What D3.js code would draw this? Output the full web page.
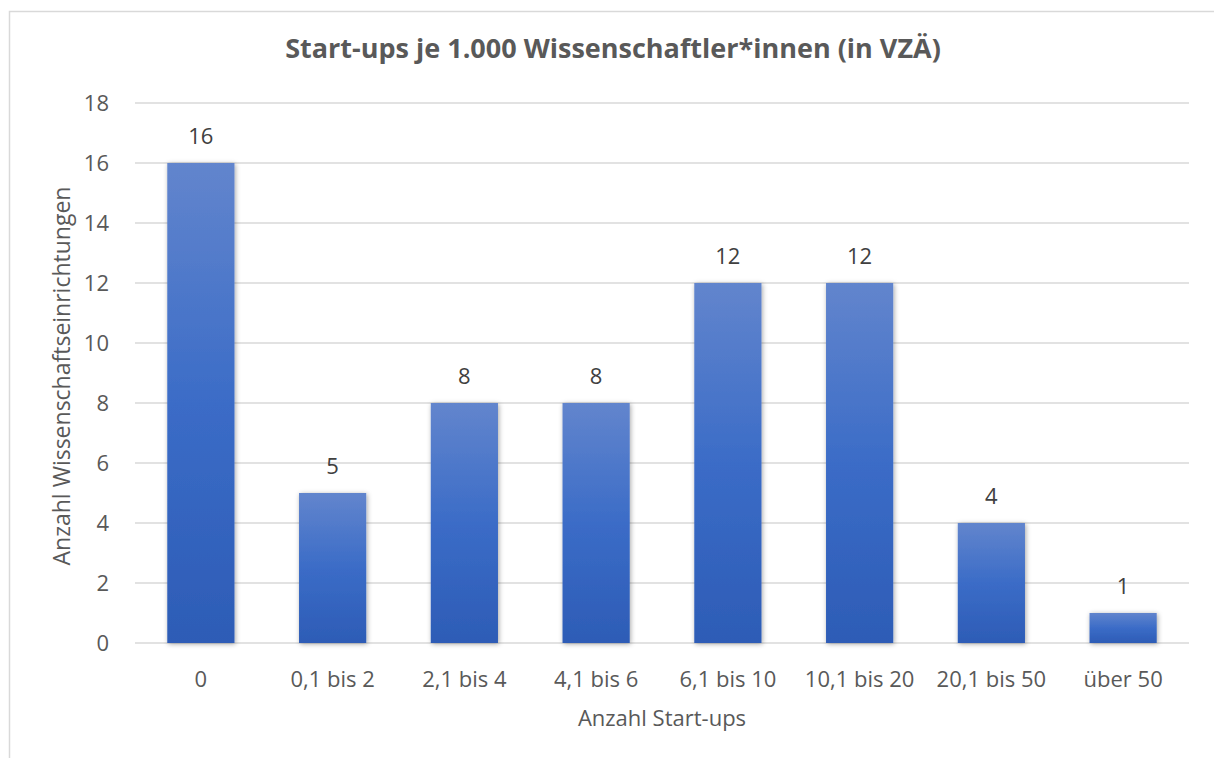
<!DOCTYPE html>
<html lang="de">
<head>
    <meta charset="utf-8">
    <style>
        html, body {
            margin: 0;
            padding: 0;
            background: #ffffff;
        }
        body {
            font-family: "Open Sans", Lato, sans-serif;
            width: 1214px;
            height: 758px;
            overflow: hidden;
        }
        .tick text {
            fill: #595959;
            font-size: 22px;
            font-family: "Open Sans", Lato, sans-serif;
        }
        .grid line {
            stroke: #d9d9d9;
            stroke-width: 1.5;
        }
    </style>
</head>
<body>

<script src="https://cdnjs.cloudflare.com/ajax/libs/d3/7.8.5/d3.min.js"></script>
<script>
// values
var categories = ['0', '0,1 bis 2', '2,1 bis 4', '4,1 bis 6', '6,1 bis 10', '10,1 bis 20', '20,1 bis 50', 'über 50'];
var counts = [16, 5, 8, 8, 12, 12, 4, 1];
var yTicks = [0, 2, 4, 6, 8, 10, 12, 14, 16, 18];

var titleText = 'Start-ups je 1.000 Wissenschaftler*innen (in VZÄ)';
var xTitle = 'Anzahl Start-ups';
var yTitle = 'Anzahl Wissenschaftseinrichtungen';

(function() {
    var width = 1214, height = 758;
    var plot = {left: 135, right: 1189, top: 103, bottom: 643};

    var svg = d3.select('body').append('svg')
        .attr('width', width)
        .attr('height', height);

    var defs = svg.append('defs');
    var grad = defs.append('linearGradient')
        .attr('id', 'barGrad')
        .attr('x1', 0).attr('y1', 0).attr('x2', 0).attr('y2', 1);
    grad.append('stop').attr('offset', '0%').attr('stop-color', '#6285cd');
    grad.append('stop').attr('offset', '50%').attr('stop-color', '#3b6cc7');
    grad.append('stop').attr('offset', '100%').attr('stop-color', '#2d5cb6');

    var shadow = defs.append('filter')
        .attr('id', 'shadow')
        .attr('x', '-30%').attr('y', '-30%').attr('width', '160%').attr('height', '160%');
    shadow.append('feDropShadow')
        .attr('dx', 1).attr('dy', 1)
        .attr('stdDeviation', 2.5)
        .attr('flood-color', '#000')
        .attr('flood-opacity', 0.35);

    // chart border
    svg.append('rect')
        .attr('x', 9.5).attr('y', 11.5)
        .attr('width', 1230).attr('height', 780)
        .attr('fill', 'none')
        .attr('stroke', '#d9d9d9')
        .attr('stroke-width', 1.5);

    var x = d3.scaleBand()
        .domain(categories)
        .range([plot.left, plot.right])
        .paddingInner(0.49)
        .paddingOuter(0.245);

    var y = d3.scaleLinear()
        .domain([0, 18])
        .range([plot.bottom, plot.top]);

    // gridlines
    svg.append('g')
        .attr('class', 'grid')
        .selectAll('line')
        .data(yTicks)
        .enter().append('line')
        .attr('x1', plot.left)
        .attr('x2', plot.right)
        .attr('y1', function (d) { return y(d); })
        .attr('y2', function (d) { return y(d); });

    // y axis labels
    var yAxis = svg.append('g')
        .attr('transform', 'translate(' + (plot.left - 26) + ',0)')
        .call(d3.axisLeft(y).tickValues(yTicks).tickSize(0).tickPadding(0));
    yAxis.select('.domain').remove();

    // x axis labels
    var xAxis = svg.append('g')
        .attr('transform', 'translate(0,' + plot.bottom + ')')
        .call(d3.axisBottom(x).tickSize(0).tickPadding(28));
    xAxis.select('.domain').remove();

    // bars
    svg.append('g')
        .selectAll('rect')
        .data(counts)
        .enter().append('rect')
        .attr('x', function (d, i) { return x(categories[i]); })
        .attr('y', function (d) { return y(d); })
        .attr('width', x.bandwidth())
        .attr('height', function (d) { return y(0) - y(d); })
        .attr('fill', 'url(#barGrad)')
        .attr('filter', 'url(#shadow)');

    // value labels
    svg.append('g')
        .selectAll('text')
        .data(counts)
        .enter().append('text')
        .attr('x', function (d, i) { return x(categories[i]) + x.bandwidth() / 2; })
        .attr('y', function (d) { return y(d) - 19; })
        .attr('text-anchor', 'middle')
        .attr('fill', '#404040')
        .style('font-size', '22px')
        .text(function (d) { return d; });

    // title
    svg.append('text')
        .attr('x', 613)
        .attr('y', 58)
        .attr('text-anchor', 'middle')
        .attr('fill', '#595959')
        .style('font-size', '27px')
        .style('font-weight', 'bold')
        .text(titleText);

    // axis titles
    svg.append('text')
        .attr('x', 662)
        .attr('y', 726)
        .attr('text-anchor', 'middle')
        .attr('fill', '#595959')
        .style('font-size', '22px')
        .text(xTitle);

    svg.append('text')
        .attr('transform', 'translate(70,' + ((plot.top + plot.bottom) / 2 + 3) + ') rotate(-90)')
        .attr('text-anchor', 'middle')
        .attr('fill', '#595959')
        .style('font-size', '23px')
        .text(yTitle);
})();
</script>

</body>
</html>
